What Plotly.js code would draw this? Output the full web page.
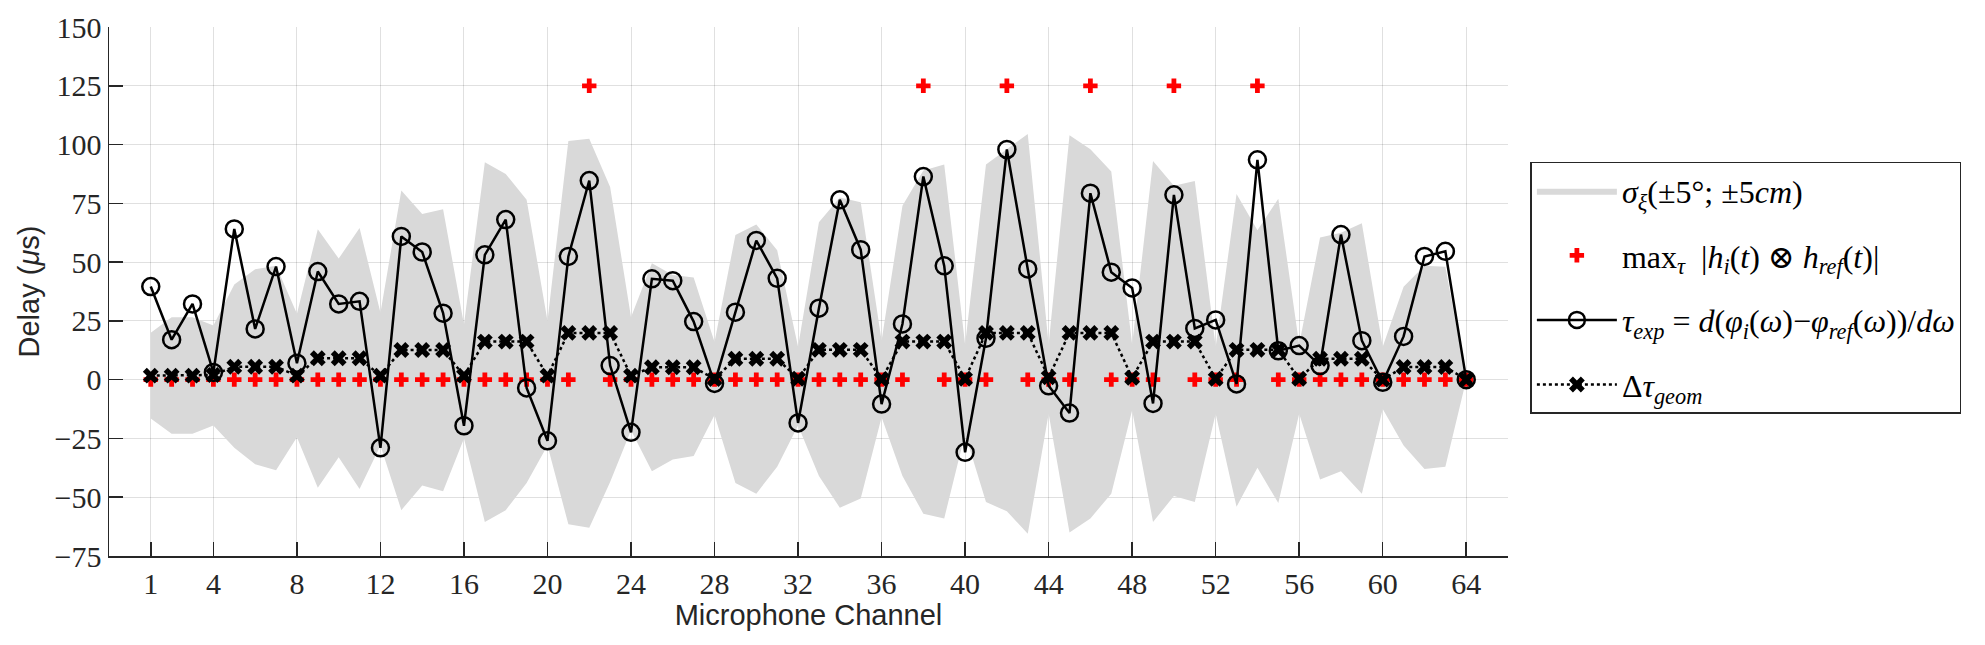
<!DOCTYPE html>
<html>
<head>
<meta charset="utf-8">
<script src="https://cdn.plot.ly/plotly-3.0.1.min.js"></script>
<style>
  html, body { margin: 0; padding: 0; background: #fff; }
  #delay { width: 1985px; height: 645px; }
</style>
</head>
<body>
<div id="delay"></div>
<script>
// channel numbers 1..64
var channels = [];
for (var c = 1; c <= 64; c++) channels.push(c);

var xTicks = [1, 4, 8, 12, 16, 20, 24, 28, 32, 36, 40, 44, 48, 52, 56, 60, 64];

// sigma band, upper and lower bounds (us)
var bandUpper = [20, 26.5, 26.5, 23, 40.5, 47, 48.5, 28, 64, 51.5, 64.5, 28.5,
    80.5, 70.5, 72.5, 23.5, 92.5, 87.5, 76.5, 25, 101.5, 102.5, 82, 26.5,
    49.5, 44.5, 43.5, 16, 61.5, 66, 55, 14, 67, 77.5, 75.5, 16.5,
    74, 89, 91.5, 15, 91.5, 98, 104.5, 15, 104, 98, 88.5, 15,
    93, 82.5, 84.5, 14, 79, 63.5, 77, 15, 60.5, 62.5, 66.5, 14,
    39.5, 48.5, 48, 0];
var bandLower = [-16.5, -23, -23, -19.5, -29, -36, -38.5, -24.5, -46, -33, -46.5, -28,
    -55.5, -45, -47.5, -25, -60.5, -55.5, -44, -28, -61.5, -63, -43.5, -21.5,
    -39, -34, -32.5, -15, -44, -48.5, -37, -19.5, -41, -54.5, -50.5, -16,
    -41, -57, -59, -23, -52, -56, -65.5, -14.5, -65, -59, -48.5, -13,
    -60.5, -49.5, -52, -14.5, -54, -37.5, -52.5, -14.5, -42.5, -39, -48.5, -12.5,
    -28, -38, -37, 0];

// max of cross-correlation
var xcorrMax = [0, 0, 0, 0, 0, 0, 0, 0, 0, 0, 0, 0, 0, 0, 0, 0,
    0, 0, 0, 0, 0, 125, 0, 0, 0, 0, 0, 0, 0, 0, 0, 0,
    0, 0, 0, 0, 0, 125, 0, 0, 0, 125, 0, 0, 0, 125, 0, 0,
    0, 125, 0, 0, 0, 125, 0, 0, 0, 0, 0, 0, 0, 0, 0, 0];

// experimental delay from phase slope
var tauExp = [39.6, 17, 32.2, 3.1, 64.1, 21.6, 48.1, 7, 46, 32.2, 33.3, -29,
    60.9, 54.3, 28.3, -19.6, 53.1, 68.1, -3.5, -26, 52.4, 84.7, 6, -22.4,
    42.9, 42.1, 24.7, -1.6, 28.7, 59.2, 43.1, -18.4, 30.4, 76.5, 55.3, -10.4,
    23.7, 86.4, 48.4, -30.9, 17.6, 97.9, 47.1, -2.6, -14.2, 79.3, 45.7, 39,
    -10.1, 78.6, 21.8, 25.4, -1.8, 93.5, 12.3, 14.5, 6, 61.7, 16.6, -1.1,
    18.4, 52.4, 54.6, 0];

// geometric delay
var tauGeom = [1.7, 1.7, 1.7, 2, 5.5, 5.5, 5.5, 1.7, 9.1, 9.1, 9.1, 1.7,
    12.6, 12.6, 12.6, 1.7, 16.2, 16.2, 16.2, 1.7, 19.9, 19.9, 19.9, 1.7,
    5.3, 5.3, 5.3, 0.3, 8.9, 8.9, 8.9, 0.4, 12.7, 12.7, 12.7, 0.3,
    16.2, 16.2, 16.2, 0.4, 19.9, 19.9, 19.9, 1, 19.9, 19.9, 19.9, 0.8,
    16.2, 16.2, 16.2, 0.4, 12.7, 12.7, 12.7, 0.4, 8.9, 8.9, 8.9, 0,
    5.4, 5.4, 5.4, 0];

var serif = 'Liberation Serif, DejaVu Serif, serif';
var sans = 'Liberation Sans, Arial, sans-serif';
var dark = '#262626';

var data = [
    {
        x: channels, y: bandLower, type: 'scatter', mode: 'lines',
        line: {width: 0, color: 'rgb(217,217,217)'},
        showlegend: false, hoverinfo: 'skip', legendgroup: 'a'
    },
    {
        x: channels, y: bandUpper, type: 'scatter', mode: 'lines',
        fill: 'tonexty', fillcolor: 'rgb(217,217,217)',
        line: {width: 0, color: 'rgb(217,217,217)'},
        name: '<i>σ</i><sub><i>ξ</i></sub>(±5°; ±5<i>cm</i>)', legendgroup: 'a'
    },
    {
        x: channels, y: xcorrMax, type: 'scatter', mode: 'markers',
        marker: {symbol: 'cross', size: 12, color: '#ff0000'},
        name: 'max<sub><i>τ</i></sub>  |<i>h<sub>i</sub></i>(<i>t</i>) ⊗ <i>h<sub>ref</sub></i>(<i>t</i>)|',
        legendgroup: 'b'
    },
    {
        x: channels, y: tauExp, type: 'scatter', mode: 'lines+markers',
        line: {color: '#000', width: 2.5},
        marker: {symbol: 'circle-open', size: 17, color: '#000', line: {width: 2.5, color: '#000'}},
        name: '<i>τ<sub>exp</sub></i> = <i>d</i>(<i>φ<sub>i</sub></i>(<i>ω</i>)−<i>φ<sub>ref</sub></i>(<i>ω</i>))/<i>dω</i>',
        legendgroup: 'c'
    },
    {
        x: channels, y: tauGeom, type: 'scatter', mode: 'lines+markers',
        line: {color: '#000', width: 2.5, dash: 'dot'},
        marker: {symbol: 'x', size: 14, color: '#000'},
        name: 'Δ<i>τ<sub>geom</sub></i>',
        legendgroup: 'd'
    }
];

var layout = {
    width: 1985,
    height: 645,
    paper_bgcolor: '#fff',
    plot_bgcolor: '#fff',
    margin: {l: 109, r: 477, t: 27, b: 89, autoexpand: false},
    font: {family: serif, size: 20, color: dark},
    showlegend: true,
    legend: {
        x: 1.016, y: 0.745, xanchor: 'left', yanchor: 'top',
        bordercolor: dark, borderwidth: 1.5, bgcolor: '#fff',
        font: {family: serif, size: 32, color: '#000'},
        traceorder: 'grouped', tracegroupgap: 20, itemwidth: 80
    },
    xaxis: {
        range: [-1, 66],
        tickmode: 'array', tickvals: xTicks,
        ticks: 'inside', ticklen: 14, tickwidth: 1.5, tickcolor: dark,
        showline: true, linecolor: dark, linewidth: 1.5,
        showgrid: true, gridcolor: 'rgba(0,0,0,0.12)', gridwidth: 1,
        zeroline: false,
        tickfont: {family: serif, size: 30, color: dark},
        title: {text: 'Microphone Channel', font: {family: sans, size: 29, color: dark}, standoff: 4}
    },
    yaxis: {
        range: [-75, 150],
        tickmode: 'array', tickvals: [-75, -50, -25, 0, 25, 50, 75, 100, 125, 150],
        ticks: 'inside', ticklen: 14, tickwidth: 1.5, tickcolor: dark,
        showline: true, linecolor: dark, linewidth: 1.5,
        showgrid: true, gridcolor: 'rgba(0,0,0,0.12)', gridwidth: 1,
        zeroline: false,
        tickfont: {family: serif, size: 30, color: dark},
        title: {text: 'Delay (<i>μ</i>s)', font: {family: sans, size: 29, color: dark}, standoff: 6}
    }
};

Plotly.newPlot('delay', data, layout, {displayModeBar: false, staticPlot: true});
</script>
</body>
</html>
